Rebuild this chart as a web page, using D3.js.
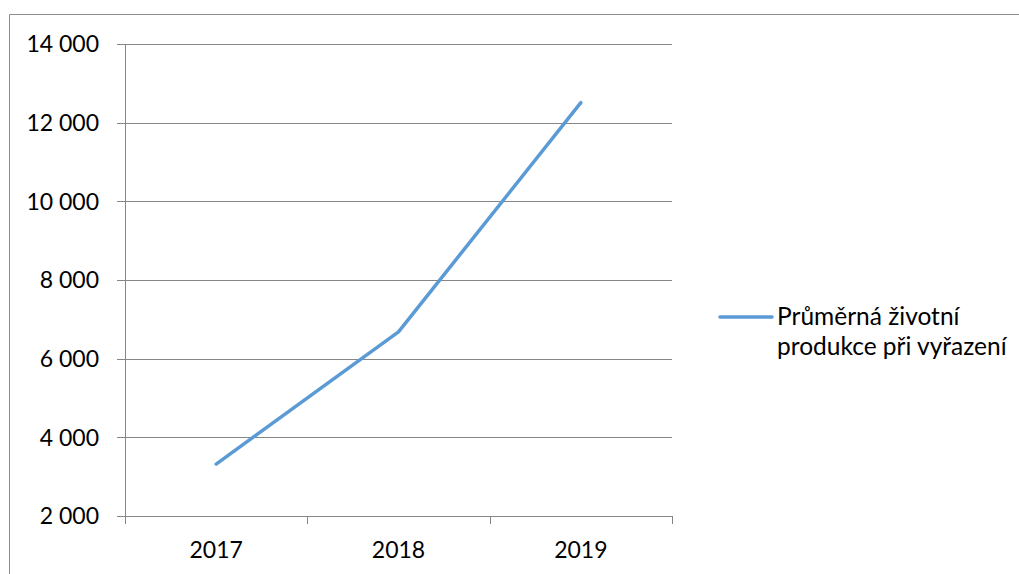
<!DOCTYPE html>
<html>
<head>
<meta charset="utf-8">
<script src="https://cdn.jsdelivr.net/npm/d3@7"></script>
<style>
  html, body { margin: 0; padding: 0; background: #fff; }
  svg { display: block; }
  text { font-family: Lato, "Open Sans", sans-serif; fill: #000; }
</style>
</head>
<body>
<svg id="chart" width="1019" height="574"></svg>
<script>
// Average lifetime production at culling, by year
const years = ["2017", "2018", "2019"];
const values = [3320, 6680, 12510];
const yTicks = [2000, 4000, 6000, 8000, 10000, 12000, 14000];
const seriesName = ["Průměrná životní", "produkce při vyřazení"];

const svg = d3.select("#chart");
const W = 1019, H = 574;
const plot = { left: 125, right: 672, top: 44, bottom: 516 };
const gridColor = "#868686";
const lineColor = "#5B9BD5";

// Chart frame (top and left edges visible)
svg.append("path")
  .attr("d", `M9.5,${H} V14.5 H${W}`)
  .attr("fill", "none")
  .attr("stroke", "#8c8c8c")
  .attr("stroke-width", 1);

const x = d3.scaleBand().domain(years).range([plot.left, plot.right]);
const y = d3.scaleLinear().domain([2000, 14000]).range([plot.bottom, plot.top]);

const fmt = v => d3.format(",")(v).replace(/,/g, " ");

// Horizontal gridlines
svg.append("g")
  .selectAll("line")
  .data(yTicks)
  .join("line")
  .attr("x1", plot.left - 8)
  .attr("x2", plot.right)
  .attr("y1", d => Math.round(y(d)) + 0.5)
  .attr("y2", d => Math.round(y(d)) + 0.5)
  .attr("stroke", gridColor)
  .attr("stroke-width", 1);

// Y axis line
svg.append("line")
  .attr("x1", plot.left + 0.5).attr("x2", plot.left + 0.5)
  .attr("y1", plot.top).attr("y2", plot.bottom)
  .attr("stroke", gridColor);

// X axis category boundaries
const bounds = [plot.left, ...years.map(d => x(d) + x.bandwidth())];
svg.append("g")
  .selectAll("line")
  .data(bounds)
  .join("line")
  .attr("x1", d => Math.round(d) + 0.5)
  .attr("x2", d => Math.round(d) + 0.5)
  .attr("y1", plot.bottom)
  .attr("y2", plot.bottom + 8)
  .attr("stroke", gridColor);

// Y tick labels
svg.append("g")
  .selectAll("text")
  .data(yTicks)
  .join("text")
  .attr("x", 99)
  .attr("y", d => y(d))
  .attr("dy", "0.36em")
  .attr("text-anchor", "end")
  .attr("font-size", 23)
  .text(fmt);

// X tick labels
svg.append("g")
  .selectAll("text")
  .data(years)
  .join("text")
  .attr("x", d => x(d) + x.bandwidth() / 2)
  .attr("y", 558)
  .attr("text-anchor", "middle")
  .attr("font-size", 23)
  .text(d => d);

// Series line
const line = d3.line()
  .x((d, i) => x(years[i]) + x.bandwidth() / 2)
  .y(d => y(d));

svg.append("path")
  .datum(values)
  .attr("d", line)
  .attr("fill", "none")
  .attr("stroke", lineColor)
  .attr("stroke-width", 3.5)
  .attr("stroke-linecap", "round")
  .attr("stroke-linejoin", "round");

// Legend
svg.append("line")
  .attr("x1", 720).attr("x2", 772)
  .attr("y1", 317).attr("y2", 317)
  .attr("stroke", lineColor)
  .attr("stroke-width", 3.5)
  .attr("stroke-linecap", "round");

svg.append("text")
  .attr("font-size", 24.5)
  .selectAll("tspan")
  .data(seriesName)
  .join("tspan")
  .attr("x", 777)
  .attr("y", (d, i) => 325 + i * 30)
  .text(d => d);
</script>
</body>
</html>
